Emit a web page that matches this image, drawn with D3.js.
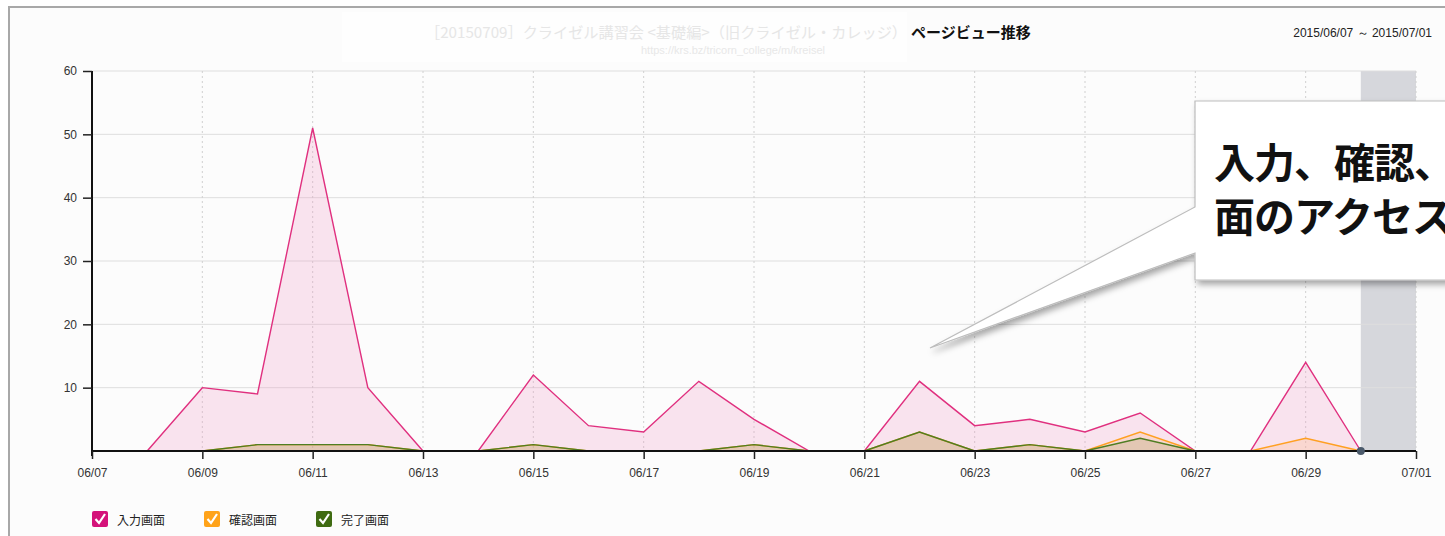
<!DOCTYPE html>
<html><head><meta charset="utf-8">
<script src="https://cdn.jsdelivr.net/npm/d3@7"></script>
<style>
html,body{margin:0;padding:0;background:#fff;overflow:hidden;}
svg{display:block;}
</style></head>
<body>
<svg id="c" width="1445" height="536"></svg>
<script>
const dates = ["2015-06-07","2015-06-08","2015-06-09","2015-06-10","2015-06-11","2015-06-12","2015-06-13","2015-06-14","2015-06-15","2015-06-16","2015-06-17","2015-06-18","2015-06-19","2015-06-20","2015-06-21","2015-06-22","2015-06-23","2015-06-24","2015-06-25","2015-06-26","2015-06-27","2015-06-28","2015-06-29","2015-06-30"];
const inputPage   = [0,0,10,9,51,10,0,0,12,4,3,11,5,0,0,11,4,5,3,6,0,0,14,0];
const confirmPage = [0,0,0,1,1,1,0,0,1,0,0,0,1,0,0,3,0,1,0,3,0,0,2,0];
const donePage    = [0,0,0,1,1,1,0,0,1,0,0,0,1,0,0,3,0,1,0,2,0,0,0,0];
const yTicks = [10,20,30,40,50,60];
const xTickLabels = ["06/07","06/09","06/11","06/13","06/15","06/17","06/19","06/21","06/23","06/25","06/27","06/29","07/01"];
const seriesNames = ["入力画面","確認画面","完了画面"];
const titleFaded = "［20150709］クライゼル講習会 <基礎編>（旧クライゼル・カレッジ）";
const titleMain = "ページビュー推移";
const subtitle = "https://krs.bz/tricorn_college/m/kreisel";
const dateRange = "2015/06/07 ～ 2015/07/01";
const calloutLines = ["入力、確認、","面のアクセス"];

const parse = d3.timeParse("%Y-%m-%d");
const fmt = d3.timeFormat("%m/%d");
const svg = d3.select("#c");
const W = 1445, H = 536;
const pLeft = 92, pRight = 1416, pTop = 71, pBottom = 451;

const x = d3.scaleTime().domain([parse("2015-06-07"), parse("2015-07-01")]).range([pLeft, pRight]);
const y = d3.scaleLinear().domain([0, 60]).range([pBottom, pTop]);

const defs = svg.append("defs");
const f = defs.append("filter").attr("id","sh").attr("x","-20%").attr("y","-20%").attr("width","150%").attr("height","160%");
f.append("feDropShadow").attr("dx",3).attr("dy",4).attr("stdDeviation",3).attr("flood-color","#000").attr("flood-opacity",0.35);

// frame
svg.append("rect").attr("x",9).attr("y",7).attr("width",W).attr("height",H).attr("fill","#fcfcfc").attr("stroke","#a8a8a8").attr("stroke-width",2);

// highlighted band (last day)
svg.append("rect").attr("x",x(parse("2015-06-30"))).attr("y",pTop)
  .attr("width",x(parse("2015-07-01"))-x(parse("2015-06-30"))).attr("height",pBottom-pTop).attr("fill","#d6d7dc");

// horizontal grid
svg.append("g").selectAll("line").data(yTicks).join("line")
  .attr("x1",pLeft).attr("x2",pRight).attr("y1",d=>y(d)).attr("y2",d=>y(d))
  .attr("stroke","#dedede").attr("stroke-width",1);

// vertical dotted grid
const tickDates = xTickLabels.map(s=>parse("2015-"+s.replace("/","-")));
svg.append("g").selectAll("line").data(tickDates.slice(1)).join("line")
  .attr("x1",d=>x(d)).attr("x2",d=>x(d)).attr("y1",pTop).attr("y2",pBottom)
  .attr("stroke","#d0d0d0").attr("stroke-width",1).attr("stroke-dasharray","2,3");

const pts = arr => arr.map((v,i)=>({d:parse(dates[i]),v}));
const series = [
  {name:seriesNames[0], data:pts(inputPage),   line:"#e0307f", fill:"rgba(240,150,195,0.25)"},
  {name:seriesNames[1], data:pts(confirmPage), line:"#ffa022", fill:"rgba(255,180,120,0.25)"},
  {name:seriesNames[2], data:pts(donePage),    line:"#4f7d22", fill:"rgba(160,150,90,0.25)"}
];
const area = d3.area().x(p=>x(p.d)).y0(y(0)).y1(p=>y(p.v));
const line = d3.line().x(p=>x(p.d)).y(p=>y(p.v));
series.forEach(s=>{
  svg.append("path").datum(s.data).attr("d",area).attr("fill",s.fill);
});
series.forEach(s=>{
  svg.append("path").datum(s.data).attr("d",line).attr("fill","none").attr("stroke",s.line).attr("stroke-width",1.4);
});

// axes
const yAxis = d3.axisLeft(y).tickValues(yTicks).tickSize(9).tickPadding(6);
const gy = svg.append("g").attr("transform",`translate(${pLeft},0)`).call(yAxis);
gy.select(".domain").attr("d",`M0,${pTop}V${pBottom+5}`).attr("stroke","#111").attr("stroke-width",2);
gy.selectAll(".tick line").attr("stroke","#222").attr("stroke-width",1.5);
gy.selectAll("text").attr("font-family","Liberation Sans, Arial, sans-serif").attr("font-size",12).attr("fill","#333");

const xAxis = d3.axisBottom(x).tickValues(tickDates).tickFormat(fmt).tickSize(8).tickPadding(9);
const gx = svg.append("g").attr("transform",`translate(0,${pBottom})`).call(xAxis);
gx.select(".domain").attr("d",`M${pLeft},0H${pRight}`).attr("stroke","#111").attr("stroke-width",2);
gx.selectAll(".tick line").attr("stroke","#222").attr("stroke-width",1.5);
gx.selectAll("text").attr("font-family","Liberation Sans, Arial, sans-serif").attr("font-size",12).attr("fill","#333");

// selected point marker
svg.append("circle").attr("cx",x(parse("2015-06-30"))).attr("cy",y(0)).attr("r",4).attr("fill","#4b5a6b");

// callout
const tip = [930,348];
const cx0 = 1195, cy0 = 101, cx1 = 1460, cy1 = 280;
svg.append("path")
  .attr("d",`M${cx0},${cy0}H${cx1}V${cy1}H${cx0}V253L${tip[0]},${tip[1]}L${cx0},207Z`)
  .attr("fill","#fff").attr("stroke","#bdbdbd").attr("stroke-width",1.2).attr("filter","url(#sh)");
svg.append("g").selectAll("text").data(calloutLines).join("text")
  .attr("x",1214).attr("y",(d,i)=>178+i*54)
  .attr("font-family","Noto Sans CJK JP, sans-serif").attr("font-weight",700).attr("font-size",41)
  .attr("letter-spacing",-1)
  .attr("fill","#111").text(d=>d);

// title
svg.append("rect").attr("x",342).attr("y",12).attr("width",565).attr("height",50).attr("fill","#fefefe");
svg.append("text").attr("x",425).attr("y",38).attr("font-family","Noto Sans CJK JP, sans-serif")
  .attr("font-size",15).attr("fill","#e6e6e6").attr("textLength",482).attr("lengthAdjust","spacingAndGlyphs").text(titleFaded);
svg.append("text").attr("x",911).attr("y",38).attr("font-family","Noto Sans CJK JP, sans-serif")
  .attr("font-size",15).attr("font-weight",700).attr("fill","#111").text(titleMain);
svg.append("text").attr("x",733).attr("y",54).attr("text-anchor","middle").attr("font-family","Liberation Sans Narrow, Liberation Sans, sans-serif")
  .attr("font-size",11).attr("fill","#e8e8e8").text(subtitle);
svg.append("text").attr("x",1432).attr("y",37).attr("text-anchor","end").attr("font-family","Liberation Sans, Arial, sans-serif")
  .attr("font-size",12).attr("fill","#222").text(dateRange);

// legend
const legX = [92,204,316];
const legCol = ["#d4127a","#ffa31a","#3f6b12"];
const lg = svg.append("g").selectAll("g").data(seriesNames).join("g").attr("transform",(d,i)=>`translate(${legX[i]},511)`);
lg.append("rect").attr("width",16).attr("height",16).attr("rx",2).attr("fill",(d,i)=>legCol[i]);
lg.append("path").attr("d","M3.5,8 L7,12 L13,3").attr("fill","none").attr("stroke","#fff").attr("stroke-width",2.2);
lg.append("text").attr("x",25).attr("y",14).attr("font-family","Noto Sans CJK JP, sans-serif").attr("font-size",12).attr("fill","#222").text(d=>d);
</script>
</body></html>
